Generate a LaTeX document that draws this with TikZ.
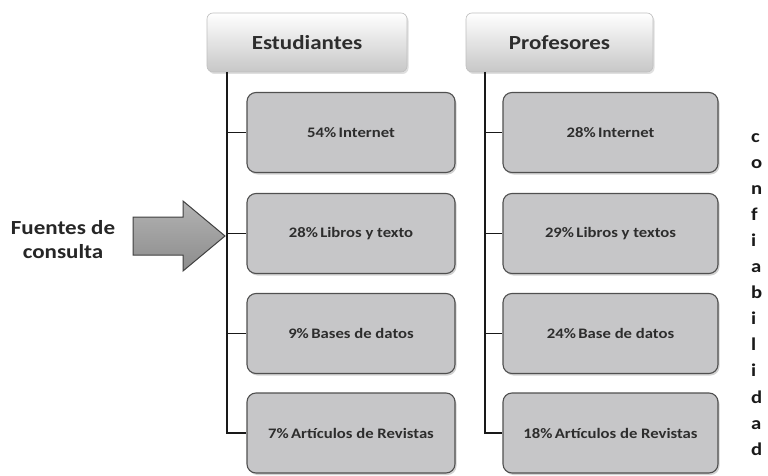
\documentclass[tikz,border=0pt]{standalone}
\usepackage{fontspec}
\setmainfont{Carlito}[FakeStretch=1.15]
\usetikzlibrary{shadows}
\definecolor{boxfill}{RGB}{198,198,200}
\definecolor{boxline}{RGB}{80,80,80}
\definecolor{txt}{RGB}{45,45,45}
\tikzset{
  header/.style={rounded corners=6pt, top color=white, bottom color=black!22, draw=black!25, line width=0.6pt,
    minimum height=59pt, inner sep=0pt, font=\fontsize{20}{24}\selectfont\bfseries, text=txt,
    drop shadow={opacity=0.25, shadow xshift=1.5pt, shadow yshift=-2pt}},
  itembox/.style={rounded corners=9pt, fill=boxfill, draw=boxline, line width=1.1pt,
    minimum height=80pt, inner sep=0pt, font=\fontsize{14.5}{18}\selectfont\bfseries, text=txt,
    drop shadow={opacity=0.35, shadow xshift=1.5pt, shadow yshift=-2pt}},
  trunk/.style={line width=2.2pt, black!90},
  branch/.style={line width=1.9pt, black!90},
}
\begin{document}
\begin{tikzpicture}[x=1pt, y=-1pt]
\useasboundingbox[fill=white] (0,0) rectangle (768,476);
% headers
\node[header, minimum width=200pt] (h1) at (307,42.5) {Estudiantes};
\node[header, minimum width=187pt] (h2) at (559.5,42.5) {Profesores};
% student boxes
\node[itembox, minimum width=208pt] (e1) at (351,132.5) {54\%\,Internet};
\node[itembox, minimum width=208pt] (e2) at (351,233.5) {28\%\,Libros y texto};
\node[itembox, minimum width=208pt] (e3) at (351,333.5) {9\%\,Bases de datos};
\node[itembox, minimum width=208pt] (e4) at (351,433) {7\%\,Artículos de Revistas};
% teacher boxes
\node[itembox, minimum width=215pt] (p1) at (610.5,132.5) {28\%\,Internet};
\node[itembox, minimum width=215pt] (p2) at (610.5,233.5) {29\%\,Libros y textos};
\node[itembox, minimum width=215pt] (p3) at (610.5,333.5) {24\%\,Base de datos};
\node[itembox, minimum width=215pt] (p4) at (610.5,433) {18\%\,Artículos de Revistas};
% trunks
\coordinate (t1) at (227,72);
\coordinate (t2) at (485,72);
\draw[trunk] (t1) |- (e4.west);
\draw[branch] (t1 |- e1.west) -- (e1.west);
\draw[branch] (t1 |- e2.west) -- (e2.west);
\draw[branch] (t1 |- e3.west) -- (e3.west);
\draw[trunk] (t2) |- (p4.west);
\draw[branch] (t2 |- p1.west) -- (p1.west);
\draw[branch] (t2 |- p2.west) -- (p2.west);
\draw[branch] (t2 |- p3.west) -- (p3.west);
% block arrow
\coordinate (tip) at (225,236);
\draw[line width=1pt, draw=black!75, top color=black!30, bottom color=black!45]
  (133,217) -- (183,217) -- (183,201) -- (tip) -- (183,271) -- (183,255) -- (133,255) -- cycle;
% labels
\node[font=\fontsize{20}{24}\selectfont\bfseries, text=black!85, align=center] (fc) at (63,240) {Fuentes de\\consulta};
\node[font=\fontsize{18}{26.1}\selectfont\bfseries, text=black!90, align=left, anchor=north west, inner sep=0pt] (conf) at (751,133)
  {c\\o\\n\\f\\i\\a\\b\\i\\l\\i\\d\\a\\d};
\end{tikzpicture}
\end{document}
